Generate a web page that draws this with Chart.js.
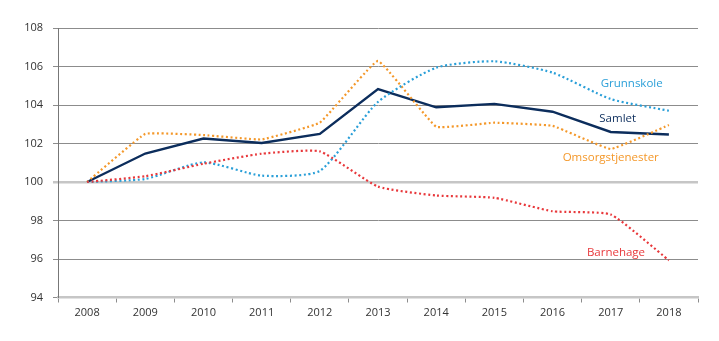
<!DOCTYPE html>
<html>
<head>
<meta charset="utf-8">
<script src="https://cdn.jsdelivr.net/npm/chart.js@4.4.1/dist/chart.umd.min.js"></script>
<style>
  html, body { margin: 0; padding: 0; background: #fff; }
  #wrap { width: 719px; height: 341px; }
</style>
</head>
<body>
<div id="wrap"><canvas id="chart" width="719" height="341"></canvas></div>
<script>
"use strict";

const years = ["2008", "2009", "2010", "2011", "2012", "2013", "2014", "2015", "2016", "2017", "2018"];
const samlet = [100, 101.48, 102.26, 102.03, 102.5, 104.83, 103.88, 104.06, 103.65, 102.6, 102.47];
const grunnskole = [100, 100.16, 101.02, 100.33, 100.58, 104.16, 105.94, 106.27, 105.68, 104.31, 103.7];
const omsorg = [100, 102.5, 102.44, 102.21, 103.08, 106.29, 102.87, 103.08, 102.92, 101.71, 102.96];
const barnehage = [100, 100.3, 100.95, 101.47, 101.59, 99.76, 99.3, 99.18, 98.48, 98.31, 95.93];
const yTicks = [94, 96, 98, 100, 102, 104, 106, 108];

const COLORS = {
  samlet: "#0c2d5c",
  grunnskole: "#2a9fd8",
  omsorg: "#f4982a",
  barnehage: "#e8383b"
};

// text labels next to the lines: [text, x position (category index), y value, colour]
const lineLabels = [
  ["Grunnskole", 9.36, 105.1, COLORS.grunnskole],
  ["Samlet", 9.12, 103.28, COLORS.samlet],
  ["Omsorgstjenester", 9.0, 101.26, COLORS.omsorg],
  ["Barnehage", 9.09, 96.34, COLORS.barnehage]
];

const labelPlugin = {
  id: "lineLabels",
  afterDatasetsDraw(chart) {
    const ctx = chart.ctx;
    const xs = chart.scales.x, ys = chart.scales.y;
    ctx.save();
    ctx.font = "11.5px 'Open Sans', sans-serif";
    ctx.textAlign = "center";
    ctx.textBaseline = "middle";
    lineLabels.forEach(l => {
      const i = Math.floor(l[1]);
      const x0 = xs.getPixelForValue(i);
      const x1 = xs.getPixelForValue(i + 1);
      const px = x0 + (x1 - x0) * (l[1] - i);
      ctx.fillStyle = l[3];
      ctx.fillText(l[0], px, ys.getPixelForValue(l[2]));
    });
    ctx.restore();
  }
};

function dotted(label, data, color, tension) {
  return {
    label: label,
    data: data,
    borderColor: color,
    borderWidth: 2.2,
    borderDash: [2, 2.6],
    pointRadius: 0,
    tension: tension,
    fill: false
  };
}

const datasets = [
  dotted("Barnehage", barnehage, COLORS.barnehage, 0.15),
  dotted("Grunnskole", grunnskole, COLORS.grunnskole, 0.2),
  dotted("Omsorgstjenester", omsorg, COLORS.omsorg, 0.08),
  {
    label: "Samlet",
    data: samlet,
    borderColor: COLORS.samlet,
    borderWidth: 2.4,
    pointRadius: 0,
    tension: 0,
    fill: false
  }
];

new Chart(document.getElementById("chart"), {
  type: "line",
  data: { labels: years, datasets: datasets },
  plugins: [labelPlugin],
  options: {
    responsive: false,
    animation: false,
    layout: { padding: { left: 0, right: 21, top: 28, bottom: 0 } },
    plugins: { legend: { display: false }, tooltip: { enabled: false } },
    scales: {
      x: {
        offset: true,
        grid: {
          offset: true,
          drawOnChartArea: false,
          color: "#8c8c8c",
          tickLength: 5
        },
        border: { color: "#c6c6c6", width: 2.5 },
        ticks: {
          color: "#333",
          font: { family: "'Open Sans', sans-serif", size: 11 },
          padding: 4,
          maxRotation: 0
        },
        afterFit(scale) { scale.height = 43.5; }
      },
      y: {
        min: 94,
        max: 108,
        afterBuildTicks(scale) { scale.ticks = yTicks.map(v => ({ value: v })); },
        grid: {
          color: ctx => (ctx.tick && ctx.tick.value === 100 ? "#c6c6c6" : "#8c8c8c"),
          lineWidth: ctx => (ctx.tick && ctx.tick.value === 100 ? 2.5 : 1),
          tickLength: 5
        },
        border: { color: "#777", width: 1 },
        ticks: {
          color: "#333",
          font: { family: "'Open Sans', sans-serif", size: 11 },
          padding: 10
        },
        afterFit(scale) { scale.width = 58; }
      }
    }
  }
});
</script>
</body>
</html>
